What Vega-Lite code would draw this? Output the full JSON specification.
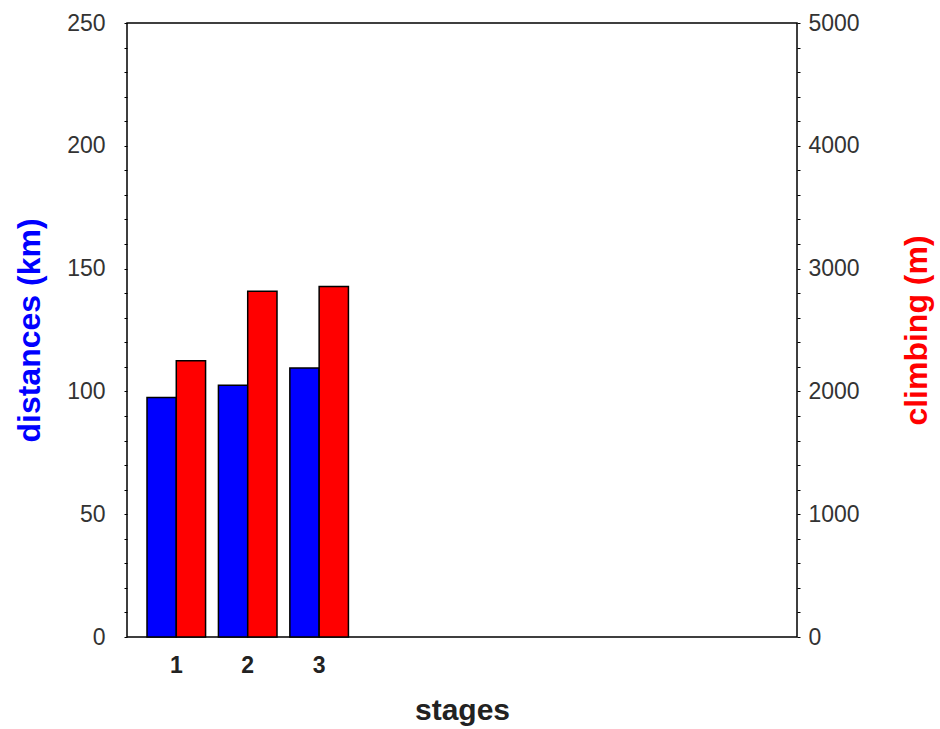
{
  "$schema": "https://vega.github.io/schema/vega-lite/v6.json",
  "autosize": {"type": "none"},
  "padding": {"left": 127, "top": 23, "right": 143, "bottom": 92},
  "width": 670,
  "height": 614,
  "background": "white",
  "config": {
    "view": {"stroke": "black", "strokeWidth": 1.5},
    "font": "Liberation Sans"
  },
  "data": {
    "values": [
      {"stage": "1", "distance": 97.5, "climbing": 2250},
      {"stage": "2", "distance": 102.5, "climbing": 2815},
      {"stage": "3", "distance": 109.5, "climbing": 2855}
    ]
  },
  "encoding": {
    "x": {
      "field": "stage",
      "type": "nominal",
      "scale": {"domain": ["1", "2", "3", "4", "5", "6", "7", "8", "9"], "paddingInner": 0.18, "paddingOuter": 0.28},
      "axis": {
        "title": "stages",
        "titleFont": "Liberation Sans",
        "titleFontSize": 30,
        "titleFontWeight": "bold",
        "titleColor": "#222",
        "titlePadding": 18,
        "labelAngle": 0,
        "labelExpr": "toNumber(datum.value) <= 3 ? datum.label : ''",
        "labelFont": "Liberation Sans",
        "labelFontSize": 23,
        "labelFontWeight": "bold",
        "labelColor": "#222",
        "labelPadding": 17,
        "ticks": false,
        "domain": false,
        "grid": false
      }
    }
  },
  "layer": [
    {
      "mark": {"type": "bar", "color": "#0000FF", "stroke": "black", "strokeWidth": 1.5},
      "encoding": {
        "xOffset": {"datum": "distance", "scale": {"domain": ["distance", "climbing"]}},
        "y": {
          "field": "distance",
          "type": "quantitative",
          "scale": {"domain": [0, 250], "nice": false},
          "axis": {
            "orient": "left",
            "title": "distances (km)",
            "titleColor": "#0000FF",
            "titleFont": "Liberation Sans",
            "titleFontSize": 32,
            "titleFontWeight": "bold",
            "titlePadding": 20,
            "values": [0, 10, 20, 30, 40, 50, 60, 70, 80, 90, 100, 110, 120, 130, 140, 150, 160, 170, 180, 190, 200, 210, 220, 230, 240, 250],
            "labelExpr": "datum.value % 50 === 0 ? datum.label : ''",
            "labelFont": "Liberation Sans",
            "labelFontSize": 23,
            "labelColor": "#333",
            "labelPadding": 19,
            "tickSize": 3,
            "tickColor": "black",
            "domain": false,
            "grid": false
          }
        }
      }
    },
    {
      "mark": {"type": "bar", "color": "#FF0000", "stroke": "black", "strokeWidth": 1.5},
      "encoding": {
        "xOffset": {"datum": "climbing", "scale": {"domain": ["distance", "climbing"]}},
        "y": {
          "field": "climbing",
          "type": "quantitative",
          "scale": {"domain": [0, 5000], "nice": false},
          "axis": {
            "orient": "right",
            "title": "climbing (m)",
            "titleColor": "#FF0000",
            "titleFont": "Liberation Sans",
            "titleFontSize": 32,
            "titleFontWeight": "bold",
            "titleAngle": -90,
            "titleBaseline": "top",
            "titlePadding": 42,
            "values": [0, 200, 400, 600, 800, 1000, 1200, 1400, 1600, 1800, 2000, 2200, 2400, 2600, 2800, 3000, 3200, 3400, 3600, 3800, 4000, 4200, 4400, 4600, 4800, 5000],
            "labelExpr": "datum.value % 1000 === 0 ? datum.label : ''",
            "labelFont": "Liberation Sans",
            "labelFontSize": 23,
            "labelColor": "#333",
            "labelPadding": 8,
            "tickSize": 3,
            "tickColor": "black",
            "format": "d",
            "domain": false,
            "grid": false
          }
        }
      }
    }
  ],
  "resolve": {"scale": {"y": "independent"}}
}
